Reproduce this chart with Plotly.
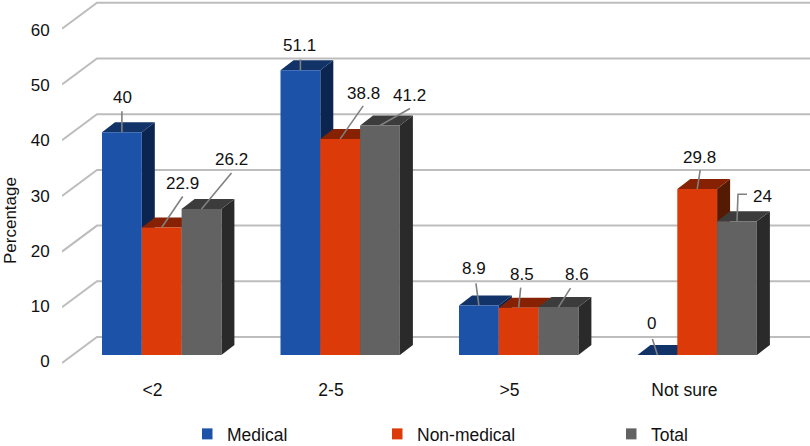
import plotly.graph_objects as go

categories = ["<2", "2-5", ">5", "Not sure"]
medical = [40, 51.1, 8.9, 0]
non_medical = [22.9, 38.8, 8.5, 29.8]
total = [26.2, 41.2, 8.6, 24]
y_ticks = [0, 10, 20, 30, 40, 50, 60]
y_title = "Percentage"

FONT = "Liberation Sans"
W, H = 810, 446
LEFT, BOTTOM = 62, 370          # plot-area edges in px
XU, YU = 178.5, 5.57            # px per category, px per percent
X0, Y0 = 152.5, 355             # px of category 0 tick, px of value 0
BAR = 39.8
BAR_START = -50.5               # first bar left, px from tick
DX, DY = 13, 10                 # bar depth
WX, WY = 35, 26                 # wall depth
GRID_FRONT_SHIFT = 8            # px the grid's front end sits below the bar base

series = [
    ("Medical", medical, "#1c52a8", "#123368", "#0c2450"),
    ("Non-medical", non_medical, "#dc3a08", "#862104", "#551a02"),
    ("Total", total, "#626262", "#3c3c3c", "#2a2a2a"),
]

# Leader-line bend points and label centres, as px offsets from each bar's front-top centre
leaders = {
    "Medical": [[(0, -21)], [(0, -11)], [(-3, -22)], [(-5, -16)]],
    "Non-medical": [[(21, -31)], [(23, -33)], [(2, -20)], [(3, -19)]],
    "Total": [[(30, -36)], [(30, -17)], [(12, -19)], [(1, -27), (10, -27)]],
}
label_offsets = {
    "Medical": [(1, -35), (-1, -25), (-5, -37), (-6, -32)],
    "Non-medical": [(21, -44), (23, -45), (3, -33), (2, -32)],
    "Total": [(30, -50), (29, -30), (18, -33), (25, -25)],
}


def px(x):
    return (x - X0) / XU


def sx(i, off):
    return i + off / XU


def sy(v, off):
    return v - off / YU


fig = go.Figure()

# back wall grid
for t in y_ticks:
    xs = [px(LEFT), px(LEFT + WX), px(W)]
    ys = [t - GRID_FRONT_SHIFT / YU, t - GRID_FRONT_SHIFT / YU + WY / YU, t - GRID_FRONT_SHIFT / YU + WY / YU]
    fig.add_trace(go.Scatter(x=xs, y=ys, mode="lines", line=dict(color="#bdbdbd", width=2),
                             showlegend=False, hoverinfo="skip", yaxis="y2", cliponaxis=False))


def poly(xs, ys, color):
    fig.add_trace(go.Scatter(x=xs, y=ys, mode="lines", fill="toself", fillcolor=color,
                             line=dict(width=0, color=color), showlegend=False,
                             hoverinfo="skip", yaxis="y2"))


annotations = []
for i in range(len(categories)):
    for s, (name, vals, front, top, side) in enumerate(series):
        v = vals[i]
        l = BAR_START + s * BAR
        r = l + BAR
        xl, xr = sx(i, l), sx(i, r)
        xdl, xdr = sx(i, l + DX), sx(i, r + DX)
        up = DY / YU
        poly([xr, xdr, xdr, xr, xr], [0, up, v + up, v, 0], side)
        poly([xl, xdl, xdr, xr, xl], [v, v + up, v + up, v, v], top)
        poly([xl, xr, xr, xl, xl], [0, 0, v, v, 0], front)

for i in range(len(categories)):
    for s, (name, vals, front, top, side) in enumerate(series):
        v = vals[i]
        c = BAR_START + s * BAR + BAR / 2
        xs = [sx(i, c)] + [sx(i, c + o[0]) for o in leaders[name][i]]
        ys = [v] + [sy(v, o[1]) for o in leaders[name][i]]
        fig.add_trace(go.Scatter(x=xs, y=ys, mode="lines", line=dict(color="#808080", width=1.6),
                                 showlegend=False, hoverinfo="skip", yaxis="y2"))
        ox, oy = label_offsets[name][i]
        annotations.append(dict(x=sx(i, c + ox), y=sy(v, oy), xref="x", yref="y2", text=str(v),
                                showarrow=False, xanchor="center", yanchor="middle",
                                font=dict(family=FONT, size=17, color="#111111")))

annotations.append(dict(x=(10 - LEFT) / (W - LEFT), y=(BOTTOM - 221) / BOTTOM, xref="paper", yref="paper",
                        text=y_title, textangle=-90, showarrow=False, xanchor="center", yanchor="middle",
                        font=dict(family=FONT, size=17, color="#111111")))

# Tick-label axis (trace keeps it alive)
fig.add_trace(go.Scatter(x=[None], y=[None], showlegend=False, hoverinfo="skip"))

# Legend entries
legend_px = {"legend": 202, "legend2": 392, "legend3": 626}
for (name, vals, front, top, side), lg in zip(series, legend_px):
    fig.add_trace(go.Scatter(x=[None], y=[None], mode="markers", name=name, legend=lg,
                             marker=dict(symbol="square", size=11, color=front), yaxis="y2"))

legend_cfg = {
    lg: dict(x=(p - LEFT) / (W - LEFT), y=(BOTTOM - 434) / BOTTOM, xanchor="left", yanchor="middle",
             bgcolor="rgba(0,0,0,0)", indentation=-15, font=dict(family=FONT, size=17.5, color="#111111"),
             itemclick=False, itemdoubleclick=False)
    for lg, p in legend_px.items()
}

fig.update_layout(
    width=W, height=H, showlegend=True,
    margin=dict(l=LEFT, r=0, t=0, b=H - BOTTOM, autoexpand=False),
    paper_bgcolor="white", plot_bgcolor="white",
    font=dict(family=FONT, size=17.5, color="#111111"),
    annotations=annotations,
    xaxis=dict(range=[px(LEFT), px(W)], tickmode="array", tickvals=[0, 1, 2, 2.98], ticktext=categories,
               showgrid=False, zeroline=False, showline=False, ticks="outside", ticklen=4,
               tickcolor="rgba(0,0,0,0)", tickfont=dict(family=FONT, size=17.5, color="#111111")),
    yaxis=dict(range=[(361.5 - BOTTOM) / 5.53, 361.5 / 5.53], tickmode="array", tickvals=y_ticks,
               showgrid=False, zeroline=False, showline=False, ticks="outside", ticklen=8,
               tickcolor="rgba(0,0,0,0)", tickfont=dict(family=FONT, size=17, color="#111111")),
    yaxis2=dict(range=[(Y0 - BOTTOM) / YU, Y0 / YU], overlaying="y", visible=False, showgrid=False,
                zeroline=False),
    **legend_cfg,
)

fig.write_html("out.html", config={"displayModeBar": False},
               post_script="document.body.style.margin='0';document.body.style.overflow='hidden';")
